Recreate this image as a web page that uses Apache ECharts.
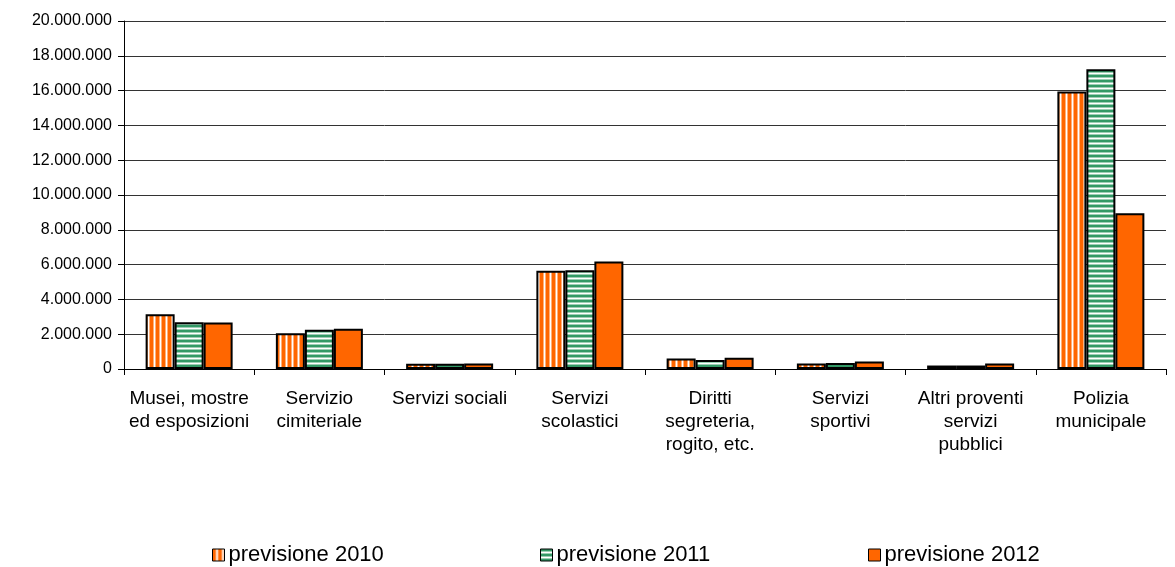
<!DOCTYPE html>
<html>
<head>
<meta charset="utf-8">
<script src="https://cdn.jsdelivr.net/npm/echarts@6/dist/echarts.min.js"></script>
<style>
html,body{margin:0;padding:0;background:#fff;}
#chart{width:1175px;height:567px;}
</style>
</head>
<body>
<div id="chart"></div>
<script>
const categories = [
  "Musei, mostre\ned esposizioni",
  "Servizio\ncimiteriale",
  "Servizi sociali",
  "Servizi\nscolastici",
  "Diritti\nsegreteria,\nrogito, etc.",
  "Servizi\nsportivi",
  "Altri proventi\nservizi\npubblici",
  "Polizia\nmunicipale"
];
const seriesNames = ["previsione 2010", "previsione 2011", "previsione 2012"];
const values2010 = [3140000, 2060000, 300000, 5650000, 600000, 310000, 200000, 15950000];
const values2011 = [2690000, 2250000, 300000, 5670000, 520000, 350000, 200000, 17230000];
const values2012 = [2670000, 2320000, 310000, 6180000, 640000, 430000, 310000, 8950000];
const yTicks = { min: 0, max: 20000000, interval: 2000000 };

function makePattern(w, h, cols, vertical) {
  const c = document.createElement('canvas');
  c.width = w; c.height = h;
  const ctx = c.getContext('2d');
  cols.forEach((col, i) => {
    ctx.fillStyle = col;
    if (vertical) ctx.fillRect(i, 0, 1, h); else ctx.fillRect(0, i, w, 1);
  });
  return c;
}
const pat2010 = makePattern(6, 4, ['#FF6600', '#FF6600', '#FF6600', '#FFB07a', '#FFFFFF', '#FFB07a'], true);
const pat2011 = makePattern(4, 5, ['#339966', '#339966', '#9ccfb4', '#FFFFFF', '#9ccfb4'], false);

const fills = [
  { image: pat2010, repeat: 'repeat' },
  { image: pat2011, repeat: 'repeat' },
  '#FF6600'
];
const dataSets = [values2010, values2011, values2012];
const FONT = '"Liberation Sans", Arial, sans-serif';

function fmt(v) {
  return String(v).replace(/\B(?=(\d{3})+(?!\d))/g, '.');
}

const legendLefts = [212, 540, 868];

const chart = echarts.init(document.getElementById('chart'), null, { renderer: 'canvas' });
chart.setOption({
  animation: false,
  backgroundColor: '#fff',
  grid: { left: 124, right: 9, top: 21, bottom: 198, containLabel: false },
  legend: seriesNames.map((n, i) => ({
    data: [n],
    left: legendLefts[i],
    top: 544,
    padding: 0,
    icon: 'rect',
    itemWidth: 12,
    itemHeight: 12,
    itemGap: 0,
    itemStyle: { borderColor: '#000', borderWidth: 1 },
    textStyle: { fontFamily: FONT, fontSize: 22, color: '#000', padding: [0, 0, 0, -1] }
  })),
  xAxis: {
    type: 'category',
    data: categories,
    axisLine: { lineStyle: { color: '#000', width: 1 } },
    axisTick: { show: true, length: 6, lineStyle: { color: '#000' } },
    axisLabel: { fontFamily: FONT, fontSize: 19, color: '#000', interval: 0, margin: 18, lineHeight: 23 }
  },
  yAxis: {
    type: 'value',
    min: yTicks.min, max: yTicks.max, interval: yTicks.interval,
    axisLine: { show: true, lineStyle: { color: '#000', width: 1 } },
    axisTick: { show: true, length: 6, lineStyle: { color: '#000' } },
    splitLine: { lineStyle: { color: '#333', width: 1 } },
    axisLabel: { fontFamily: FONT, fontSize: 16, color: '#000', margin: 12, formatter: fmt }
  },
  series: seriesNames.map((n, i) => ({
    name: n,
    type: 'bar',
    data: dataSets[i],
    barWidth: 29,
    barGap: '0%',
    itemStyle: { color: fills[i], borderColor: '#000', borderWidth: 2 }
  }))
});
</script>
</body>
</html>
